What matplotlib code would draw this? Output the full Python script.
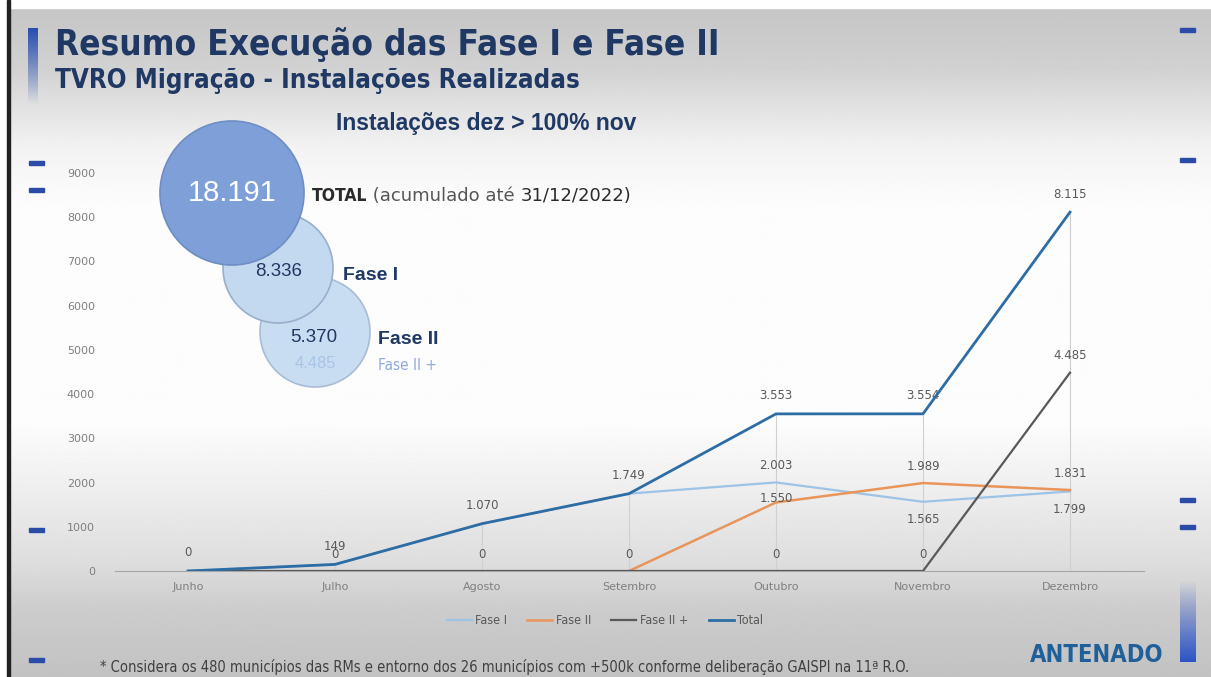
import numpy as np
import matplotlib.pyplot as plt
from matplotlib.patches import Circle, Rectangle

meses = ['Junho', 'Julho', 'Agosto', 'Setembro', 'Outubro', 'Novembro', 'Dezembro']
fase1 = [0, 149, 1070, 1749, 2003, 1565, 1799]
fase2 = [np.nan, np.nan, np.nan, 0, 1550, 1989, 1831]
fase2_mais = [0, 0, 0, 0, 0, 0, 4485]
total = [0, 149, 1070, 1749, 3553, 3554, 8115]

resumo_total = '18.191'
resumo_fase1 = '8.336'
resumo_fase2 = '5.370'
resumo_fase2_mais = '4.485'

NARROW = dict(family='DejaVu Sans', fontstretch='condensed')
SANS = ['Liberation Sans', 'DejaVu Sans']
NAVY = '#1F3864'


def br(v):
    return f'{int(v):,}'.replace(',', '.')


W, H = 1211, 677
fig = plt.figure(figsize=(W / 100, H / 100), dpi=100)

# fundo do slide em coordenadas de pixel
bg = fig.add_axes([0, 0, 1, 1], zorder=0)
bg.set_xlim(0, W)
bg.set_ylim(H, 0)
bg.axis('off')
ys = np.arange(H)
prof = np.interp(ys, [8, 60, 140, 200, 420, 480, 560, 610, 677],
                 [0.78, 0.82, 0.95, 0.99, 0.99, 0.94, 0.87, 0.80, 0.76])
grad = np.repeat(prof[:, None], 4, axis=1)
bg.imshow(grad, cmap='gray', vmin=0, vmax=1, extent=[10, W, H, 8], aspect='auto', zorder=0)
bg.add_patch(Rectangle((0, 0), W, 8, color='white', zorder=1))
bg.add_patch(Rectangle((7, 0), 3, H, color='#222222', zorder=1))

# barras e tracos azuis
bar_l = np.linspace(1, 0, 60)[:, None]
bg.imshow(np.dstack([np.full((60, 1), 0.16), np.full((60, 1), 0.30), np.full((60, 1), 0.70), bar_l]),
          extent=[28, 38, 105, 28], aspect='auto', zorder=2)
bar_r = np.linspace(0, 1, 60)[:, None]
bg.imshow(np.dstack([np.full((60, 1), 0.18), np.full((60, 1), 0.33), np.full((60, 1), 0.78), bar_r]),
          extent=[1180, 1196, 662, 580], aspect='auto', zorder=2)
for yy in [163, 190, 530, 660]:
    bg.add_patch(Rectangle((29, yy - 2), 15, 4, color='#2A4CA8', zorder=2))
for yy in [30, 160, 500, 527]:
    bg.add_patch(Rectangle((1180, yy - 2), 15, 4, color='#2A4CA8', zorder=2))

# bolhas de resumo
bg.add_patch(Circle((315, 332), 55, facecolor='#C9DDF2', edgecolor='#A9BCD6', lw=1.2, zorder=3))
bg.add_patch(Circle((278, 268), 55, facecolor='#C2D9F0', edgecolor='#98AECB', lw=1.2, zorder=4))
bg.add_patch(Circle((232, 193), 72, facecolor='#7F9FD8', edgecolor='#6E8DC4', lw=1.2, zorder=5))

bg.text(232, 193, resumo_total, color='white', fontsize=21, family=SANS, ha='center', va='center', zorder=6)
t1 = bg.text(312, 196, 'TOTAL', color='#2B2B2B', fontsize=12.5, weight='bold',
             ha='left', va='center', zorder=6, **NARROW)
t2 = bg.annotate(' (acumulado até ', xy=(1, 0), xycoords=t1, va='bottom', ha='left',
                 color='#555555', fontsize=13, family='DejaVu Sans', zorder=6)
bg.annotate('31/12/2022)', xy=(1, 0), xycoords=t2, va='bottom', ha='left',
            color='#2B2B2B', fontsize=13, family='DejaVu Sans', zorder=6)
bg.text(279, 272, resumo_fase1, color=NAVY, fontsize=13.5, family=SANS, ha='center', va='center', zorder=6)
bg.text(343, 275, 'Fase I', color=NAVY, fontsize=14, family=SANS, weight='bold', ha='left', va='center', zorder=6)
bg.text(314, 338, resumo_fase2, color=NAVY, fontsize=13.5, family=SANS, ha='center', va='center', zorder=6)
bg.text(378, 340, 'Fase II', color=NAVY, fontsize=14, family=SANS, weight='bold', ha='left', va='center', zorder=6)
bg.text(315, 364, resumo_fase2_mais, color='#A9C4E8', fontsize=12, family=SANS, ha='center', va='center', zorder=6)
bg.text(378, 365, 'Fase II +', color='#8FAADC', fontsize=11, ha='left', va='center', zorder=6, **NARROW)

# titulos
bg.text(55, 55, 'Resumo Execução das Fase I e Fase II', color=NAVY, fontsize=25.2,
        weight='bold', ha='left', va='baseline', zorder=6, **NARROW)
bg.text(55, 88, 'TVRO Migração - Instalações Realizadas', color=NAVY, fontsize=18.6,
        weight='bold', ha='left', va='baseline', zorder=6, **NARROW)
bg.text(486, 130, 'Instalações dez > 100% nov', color=NAVY, fontsize=16.5, family=SANS,
        weight='bold', ha='center', va='baseline', zorder=6)

bg.text(100, 667, '* Considera os 480 municípios das RMs e entorno dos 26 municípios com +500k conforme '
        'deliberação GAISPI na 11ª R.O.', color='#404040', fontsize=10.5,
        ha='left', va='center', zorder=6, **NARROW)
bg.text(1097, 655, 'ANTENADO', color='#1F5F9A', fontsize=17, weight='bold',
        ha='center', va='center', zorder=6, **NARROW)

# grafico de linhas
ax = fig.add_axes([114.5 / W, 1 - 571 / H, 1029 / W, 398 / H], zorder=1)
ax.patch.set_alpha(0)
x = np.arange(len(meses))
topo = np.nanmax(np.vstack([fase1, fase2, fase2_mais, total]), axis=0)
ax.vlines(x, 0, topo, color='#D0D0D0', lw=0.8, zorder=1)
ax.plot(x, fase1, color='#9DC3E6', lw=1.6, label='Fase I', zorder=3)
ax.plot(x, fase2, color='#E9955A', lw=1.8, label='Fase II', zorder=3)
ax.plot(x, fase2_mais, color='#595959', lw=1.6, label='Fase II +', zorder=3)
ax.plot(x, total, color='#2E6DA4', lw=2.0, label='Total', zorder=4)

lab = dict(color='#595959', fontsize=8.5, family='DejaVu Sans', ha='center', va='center',
           textcoords='offset points')
for i, v in enumerate(total):
    ax.annotate(br(v), (i, v), xytext=(0, 13), **lab)
for i in range(4, 7):
    dy = 12 if fase1[i] > fase2[i] else -13
    ax.annotate(br(fase1[i]), (i, fase1[i]), xytext=(0, dy), **lab)
for i in range(4, 7):
    dy = 3 if i == 4 else 12
    ax.annotate(br(fase2[i]), (i, fase2[i]), xytext=(0, dy), **lab)
for i, v in enumerate(fase2_mais):
    if i == 0:
        continue
    ax.annotate(br(v), (i, v), xytext=(0, 12), **lab)

ax.set_xlim(-0.5, 6.5)
ax.set_ylim(0, 9000)
ax.set_yticks(range(0, 9001, 1000))
ax.set_xticks(x)
ax.set_xticklabels(meses)
ax.tick_params(axis='both', length=0, labelsize=8, labelcolor='#7F7F7F')
ax.tick_params(axis='y', pad=14)
ax.tick_params(axis='x', pad=8)
for s in ['top', 'right', 'left']:
    ax.spines[s].set_visible(False)
ax.spines['bottom'].set_color('#A6A6A6')

leg = fig.legend(loc='center', bbox_to_anchor=(605 / W, 1 - 621 / H), ncol=4, frameon=False,
                 prop={'family': 'DejaVu Sans', 'stretch': 'condensed', 'size': 9},
                 handlelength=2.0, handletextpad=0.3, columnspacing=1.6)
for t in leg.get_texts():
    t.set_color('#595959')

fig.savefig('out.png', dpi=100)
